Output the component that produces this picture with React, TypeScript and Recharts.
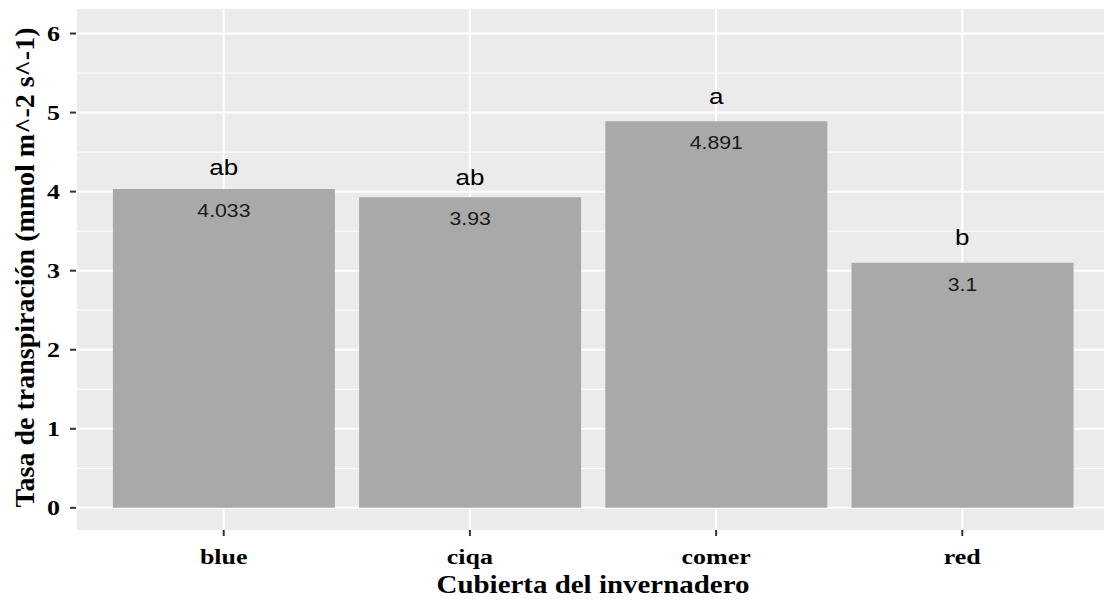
import { ComposedChart, Bar, Line, XAxis, YAxis, CartesianGrid, LabelList, Label } from "recharts";

// transpiration by greenhouse cover
const covers = ["blue", "ciqa", "comer", "red"];
const rates = [4.033, 3.93, 4.891, 3.1];
const groups = ["ab", "ab", "a", "b"];
const groupY = [4.21, 4.08, 5.105, 3.32];

const majorTicks = [0, 1, 2, 3, 4, 5, 6];
const minorTicks = [0.5, 1.5, 2.5, 3.5, 4.5, 5.5];

const data = covers.map((c, i) => ({ cover: c, rate: rates[i], group: groups[i], groupY: groupY[i] }));

const SERIF = "'Liberation Serif', 'Times New Roman', serif";
const SANS = "'Liberation Sans', Arial, sans-serif";
const STRETCH = 1.18;

const XTick = (props: any) => {
  const { x, y, payload } = props;
  return (
    <text
      transform={`translate(${x},${y + 26}) scale(${STRETCH},1)`}
      textAnchor="middle"
      fontFamily={SERIF}
      fontWeight="bold"
      fontSize={22}
      fill="#000"
    >
      {payload.value}
    </text>
  );
};

const YTick = (props: any) => {
  const { x, y, payload } = props;
  return (
    <text
      transform={`translate(${x},${y}) scale(${STRETCH},1)`}
      textAnchor="end"
      dominantBaseline="central"
      fontFamily={SERIF}
      fontWeight="bold"
      fontSize={22}
      fill="#000"
    >
      {payload.value}
    </text>
  );
};

const ValueLabel = (props: any) => {
  const { x, y, width, value } = props;
  return (
    <text
      transform={`translate(${x + width / 2},${y + 28}) scale(${STRETCH},1)`}
      textAnchor="middle"
      fontFamily={SANS}
      fontSize={18}
      fill="#1a1a1a"
    >
      {String(value)}
    </text>
  );
};

const GroupLabel = (props: any) => {
  const { x, y, value } = props;
  return (
    <text
      transform={`translate(${x},${y}) scale(${STRETCH},1)`}
      textAnchor="middle"
      fontFamily={SANS}
      fontSize={22}
      fill="#000"
    >
      {value}
    </text>
  );
};

const XTitle = (props: any) => {
  const { x, y, width } = props.viewBox;
  return (
    <text
      x={x + width / 2}
      y={y + 63}
      textAnchor="middle"
      fontFamily={SERIF}
      fontWeight="bold"
      fontSize={25}
      textLength={313}
      lengthAdjust="spacingAndGlyphs"
      fill="#000"
    >
      Cubierta del invernadero
    </text>
  );
};

const YTitle = (props: any) => {
  const { y, height } = props.viewBox;
  const cx = 34;
  const cy = y + height / 2 - 2;
  return (
    <text
      transform={`translate(${cx},${cy}) rotate(-90)`}
      textAnchor="middle"
      fontFamily={SERIF}
      fontWeight="bold"
      fontSize={27}
      textLength={480}
      lengthAdjust="spacingAndGlyphs"
      fill="#000"
    >
      Tasa de transpiración (mmol m^-2 s^-1)
    </text>
  );
};

export default function App() {
  return (
    <div style={{ position: "absolute", left: 0, top: 0, width: 1104, height: 602, overflow: "hidden", background: "#fff" }}>
      <ComposedChart
        width={1112}
        height={602}
        data={data}
        margin={{ top: 9, right: 2, bottom: 0, left: 0 }}
        barCategoryGap="5%"
      >
        <CartesianGrid
          fill="#EBEBEB"
          stroke="#fff"
          strokeWidth={1}
          vertical={false}
          horizontalValues={minorTicks}
        />
        <CartesianGrid stroke="#fff" strokeWidth={2} horizontalValues={majorTicks} />
        <XAxis
          dataKey="cover"
          height={72}
          padding={{ left: 24.6, right: 24.6 }}
          axisLine={false}
          tickLine={{ stroke: "#333", strokeWidth: 2 }}
          tickSize={6}
          tickMargin={2}
          tick={<XTick />}
          interval={0}
        >
          <Label content={<XTitle />} />
        </XAxis>
        <YAxis
          width={76}
          domain={[-0.28, 6.31]}
          ticks={majorTicks}
          allowDataOverflow
          axisLine={false}
          tickLine={{ stroke: "#333", strokeWidth: 2 }}
          tickSize={6}
          tickMargin={10}
          tick={<YTick />}
        >
          <Label content={<YTitle />} />
        </YAxis>
        <Bar dataKey="rate" fill="#A9A9A9" isAnimationActive={false}>
          <LabelList dataKey="rate" content={<ValueLabel />} />
        </Bar>
        <Line
          dataKey="groupY"
          stroke="none"
          dot={false}
          activeDot={false}
          isAnimationActive={false}
        >
          <LabelList dataKey="group" content={<GroupLabel />} />
        </Line>
      </ComposedChart>
    </div>
  );
}
